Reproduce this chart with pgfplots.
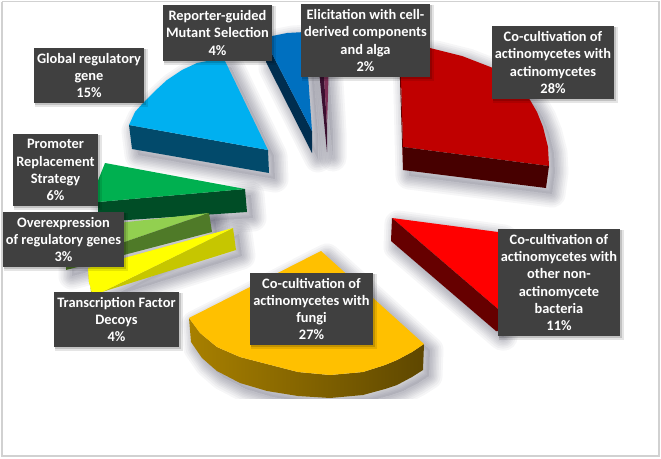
\documentclass[border=0pt]{standalone}
\usepackage{fontspec}
\setmainfont{Carlito}
\usepackage{pgfplots}
\usepackage{pgfplotstable}
\pgfplotsset{compat=1.18}

\definecolor{boxgray}{HTML}{404040}
\definecolor{cDarkRed}{HTML}{C00000}
\definecolor{cDarkRedS}{HTML}{470000}
\definecolor{cDarkRedE}{HTML}{650000}
\definecolor{cRed}{HTML}{FF0000}
\definecolor{cRedS}{HTML}{660000}
\definecolor{cOrange}{HTML}{FFC000}
\definecolor{cOrL}{HTML}{A88000}
\definecolor{cOrM}{HTML}{6E5300}
\definecolor{cOrR}{HTML}{5E4700}
\definecolor{cGreen}{HTML}{00B050}
\definecolor{cGreenS}{HTML}{004D26}
\definecolor{cLtGreen}{HTML}{92D050}
\definecolor{cLtGreenS}{HTML}{4F7A28}
\definecolor{cYellow}{HTML}{FFFF00}
\definecolor{cYellowS}{HTML}{C6C600}
\definecolor{cCyan}{HTML}{00B0F0}
\definecolor{cCyanS}{HTML}{024A6B}
\definecolor{cBlue}{HTML}{0070C0}
\definecolor{cBlueS}{HTML}{002E50}
\definecolor{cPurple}{HTML}{7A2F55}
\definecolor{cPurpleS}{HTML}{3A1030}
\definecolor{cShadow}{HTML}{30304A}

% outlines, in pixels (y runs downward)
\pgfplotstableread{
x y
400 47
430 48
462 56
493 68
513 83
530 100
537 112
543 127
548 147
549 166
403 147
}\coculttop
\pgfplotstableread{
x y
403 147
549 166
546 188
403 170
}\cocultside
\pgfplotstableread{
x y
400 50
403 147
403 170
399 50
}\cocultedge
\pgfplotstableread{
x y
400 47
430 48
462 56
493 68
513 83
530 100
537 112
543 127
548 147
549 166
546 188
403 170
}\cocultall
\pgfplotstableread{
x y
392 218
498 232
520 235
520 325
498 309
}\bacttop
\pgfplotstableread{
x y
392 218
498 309
498 331
496 331
391 241
}\bactside
\pgfplotstableread{
x y
392 218
498 232
498 331
496 331
391 241
}\bactall
\pgfplotstableread{
x y
321 251
424 344
412 352
397 360
385 365
363 372
330 375
298 372
267 364
240 357
217 347
200 333
189 318
}\fungitop
\pgfplotstableread{
x y
424 344
412 352
397 360
385 365
363 372
330 375
298 372
267 364
240 357
217 347
200 333
189 318
191 342
202 358
217 371
240 383
267 391
298 396
330 398
363 395
385 389
397 385
412 377
423 370
}\fungiside
\pgfplotstableread{
x y
321 251
424 344
423 370
412 377
397 385
385 389
363 395
330 398
298 396
267 391
240 383
217 371
202 358
191 342
189 318
}\fungiall
\pgfplotstableread{
x y
88 268
233 228
102 292
92 292
89 282
}\yellowtop
\pgfplotstableread{
x y
233 228
236 250
102 292
}\yellowside
\pgfplotstableread{
x y
88 270
89 282
92 292
102 292
92 300
}\yellowedge
\pgfplotstableread{
x y
100 225
209 213
66 262
}\ltgreentop
\pgfplotstableread{
x y
209 213
212 232
66 270
66 262
}\ltgreenside
\pgfplotstableread{
x y
105 163
245 189
98 202
97 183
}\greentop
\pgfplotstableread{
x y
98 202
245 189
247 212
98 222
}\greenside
\pgfplotstableread{
x y
129 125
135 112
143 103
155 91
167 80
182 70
197 63
212 60
225 61
268 150
}\cyantop
\pgfplotstableread{
x y
129 125
268 150
269 173
132 149
}\cyanside
\pgfplotstableread{
x y
129 125
135 112
143 103
155 91
167 80
182 70
197 63
212 60
225 61
268 150
269 173
132 149
}\cyanall
\pgfplotstableread{
x y
266 42
272 36
287 33
305 32
312 131
}\bluetop
\pgfplotstableread{
x y
266 42
312 131
312 153
266 62
}\blueside
\pgfplotstableread{
x y
266 42
272 36
287 33
305 32
312 131
312 153
266 62
}\blueall
\pgfplotstableread{
x y
323 60
329 60
327 127
}\purpletop
\pgfplotstableread{
x y
318 60
323 60
327 127
327 152
}\purpleside

% soft drop shadow, stacked strokes instead of a blur
\newcommand\shadlayer[2]{%
  \addplot[draw=cShadow,fill=cShadow,draw opacity=0.045,fill opacity=0.008,line width=#2,line join=round]
    table[x expr=\thisrowno{0}+6,y expr=\thisrowno{1}+6] {#1} -- cycle;
}
\newcommand\shad[1]{%
  \shadlayer{#1}{27pt}\shadlayer{#1}{23pt}\shadlayer{#1}{19pt}\shadlayer{#1}{16pt}%
  \shadlayer{#1}{13pt}\shadlayer{#1}{10pt}\shadlayer{#1}{7pt}\shadlayer{#1}{4pt}%
}
\newcommand\face[2]{\addplot[fill=#1,draw=none] table {#2} -- cycle;}
% label box: x0 y0 x1 y1 text
\newcommand\lbl[5]{%
  \fill[black,opacity=0.10] (axis cs:#1+1,#2+1) rectangle (axis cs:#3+4,#4+4);
  \fill[black,opacity=0.15] (axis cs:#1+1,#2+1) rectangle (axis cs:#3+2,#4+2);
  \fill[boxgray] (axis cs:#1,#2) rectangle (axis cs:#3,#4);
  \node[text=white,font=\fontsize{14.4}{17.2}\selectfont\bfseries,align=center,inner sep=0pt]
    at (axis cs:{(#1+#3)/2},{(#2+#4)/2}) {#5};
}

\begin{document}
\begin{tikzpicture}
\begin{axis}[
    width=661pt, height=458pt, scale only axis,
    xmin=0, xmax=661, ymin=0, ymax=458,
    y dir=reverse, hide axis, clip=false,
]
% page background and frame
\addplot[fill=white,draw=none] coordinates {(0,0) (661,0) (661,458) (0,458)} -- cycle;
\addplot[draw=black!18,line width=1.3pt] coordinates {(2,1.5) (659,1.5) (659,456) (2,456) (2,1.5)};

% shadows
\shad{\cocultall}
\shad{\bactall}
\shad{\fungiall}
\shad{\yellowside}
\shad{\ltgreenside}
\shad{\greenside}
\shad{\cyanall}
\shad{\blueall}
\shad{\purpleside}
% the shadow of the orange slice is cut flat at the bottom
\addplot[fill=white,draw=none] coordinates {(150,398.5) (470,398.5) (470,440) (150,440)} -- cycle;

% slices
\face{cDarkRed}{\coculttop}
\face{cDarkRedS}{\cocultside}
\face{cDarkRedE}{\cocultedge}
\face{cRed}{\bacttop}
\face{cRedS}{\bactside}
\addplot[draw=none,left color=cOrL,middle color=cOrM,right color=cOrR] table {\fungiside} -- cycle;
\face{cOrange}{\fungitop}
\face{cGreenS}{\greenside}
\face{cGreen}{\greentop}
\face{cLtGreen}{\ltgreentop}
\face{cLtGreenS}{\ltgreenside}
\face{cYellowS}{\yellowside}
\face{cYellowS}{\yellowedge}
\face{cYellow}{\yellowtop}
\face{cCyanS}{\cyanside}
\face{cCyan}{\cyantop}
\face{cBlueS}{\blueside}
\face{cBlue}{\bluetop}
\face{cPurpleS}{\purpleside}
\face{cPurple}{\purpletop}

% labels
\lbl{163}{5}{272}{61}{Reporter-guided\\Mutant Selection\\4\%}
\lbl{301}{4}{430}{77}{Elicitation with cell-\\derived components\\and alga\\2\%}
\lbl{492}{26}{614}{99}{Co-cultivation of\\actinomycetes with\\actinomycetes\\28\%}
\lbl{34}{48}{144}{103}{Global regulatory\\gene\\15\%}
\lbl{13}{134}{98}{206}{Promoter\\Replacement\\Strategy\\6\%}
\lbl{3}{212}{124}{267}{Overexpression\\of regulatory genes\\3\%}
\lbl{54}{292}{179}{347}{Transcription Factor\\Decoys\\4\%}
\lbl{250}{273}{373}{345}{Co-cultivation of\\actinomycetes with\\fungi\\27\%}
\lbl{498}{229}{620}{336}{Co-cultivation of\\actinomycetes with\\other non-\\actinomycete\\bacteria\\11\%}
\end{axis}
\end{tikzpicture}
\end{document}
